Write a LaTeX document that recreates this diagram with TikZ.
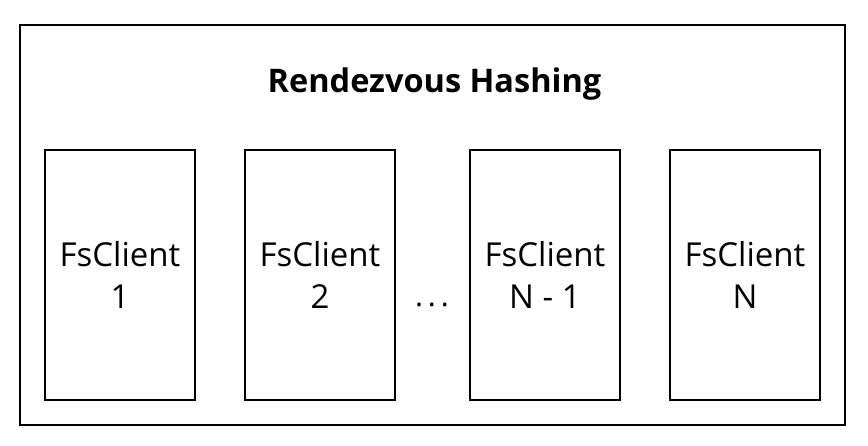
\documentclass[tikz,border=0pt]{standalone}
\usepackage{fontspec}
\setmainfont{Open Sans}
\usetikzlibrary{positioning}

\begin{document}
\begin{tikzpicture}[x=1pt,y=1pt]
\tikzset{client/.style={draw, line width=1.5pt, minimum width=150pt, minimum height=250pt, align=center, font=\fontsize{33}{42}\selectfont, inner sep=0pt, outer sep=0pt}}
\tikzset{frame/.style={draw, line width=1.5pt}}

\useasboundingbox (0,0) rectangle (868,446);
\draw[frame] (20,21) rectangle (845,421);
\node[font=\bfseries\fontsize{32.5}{38}\selectfont] (title) at (434.5,362) {Rendezvous Hashing};

\node[client] (c1) at (120,171) {FsClient\\1};
\node[client, right=50pt of c1] (c2) {FsClient\\2};
\node[client, right=75pt of c2] (c3) {FsClient\\N - 1};
\node[client, right=50pt of c3] (c4) {FsClient\\N};
\node[font=\fontsize{30}{36}\selectfont, anchor=base] (dots) at (432,139) {.\,.\,.};

\end{tikzpicture}
\end{document}
